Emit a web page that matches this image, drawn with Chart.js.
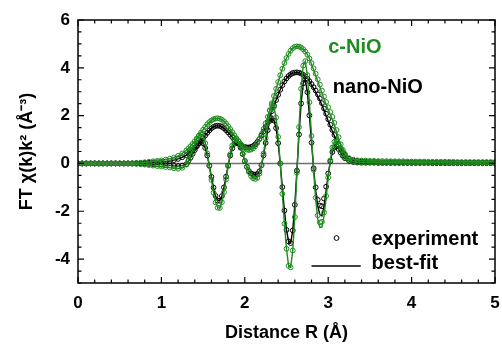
<!DOCTYPE html>
<html><head><meta charset="utf-8">
<script src="https://cdn.jsdelivr.net/npm/chart.js@4.4.1/dist/chart.umd.min.js"></script>
<style>html,body{margin:0;padding:0;background:#fff;}#wrap{width:502px;height:344px;}</style>
</head><body><div id="wrap"><canvas id="c" width="502" height="344"></canvas></div>
<script>
// Distance grid (Å)
const R = [
 0,0.05,0.1,0.15,0.2,0.25,0.3,0.35,0.4,0.45,0.5,0.55,0.6,0.65,0.7,0.75,0.8,0.85,0.9,0.95,1.0,1.05,1.1,1.15,1.2,1.25,
 1.3,1.325,1.35,1.375,1.4,1.425,1.45,1.475,1.5,1.525,1.55,1.575,1.6,1.625,1.65,1.675,1.7,1.725,1.75,1.775,1.8,1.825,1.85,1.875,1.9,1.925,1.95,1.975,
 2.0,2.025,2.05,2.075,2.1,2.125,2.15,2.175,2.2,2.225,2.25,2.275,2.3,2.325,2.35,2.375,2.4,2.425,2.45,2.475,2.5,2.525,2.55,2.575,2.6,2.625,2.65,2.675,2.7,2.725,2.75,2.775,
 2.8,2.825,2.85,2.875,2.9,2.925,2.95,2.975,3.0,3.025,3.05,3.075,3.1,3.125,3.15,3.175,3.2,
 3.25,3.3,3.35,3.4,3.45,3.5,3.55,3.6,3.65,3.7,3.75,3.8,3.85,3.9,3.95,4.0,4.05,4.1,4.15,4.2,4.25,4.3,4.35,4.4,4.45,4.5,4.55,4.6,4.65,4.7,4.75,4.8,4.85,4.9,4.95,5.0
];
// c-NiO experiment: magnitude
const cNiOMagExp = [
 0,0,0,0,0,0,0,0,0,0,0,0,0.005,0.01,0.02,0.03,0.05,0.07,0.09,0.11,0.13,0.16,0.2,0.25,0.32,0.42,
 0.55,0.63,0.72,0.82,0.93,1.05,1.17,1.29,1.41,1.53,1.64,1.73,1.8,1.85,1.88,1.89,1.87,1.83,1.76,1.67,1.56,1.44,1.31,1.18,1.05,0.93,0.82,0.72,
 0.64,0.58,0.56,0.58,0.63,0.72,0.85,1.02,1.22,1.44,1.68,1.95,2.23,2.52,2.82,3.12,3.41,3.69,3.96,4.2,4.41,4.58,4.72,4.82,4.88,4.9,4.89,4.85,4.78,4.68,4.55,4.39,
 4.2,3.98,3.75,3.52,3.3,3.05,2.8,2.57,2.35,2.15,1.95,1.7,1.4,1.1,0.8,0.57,0.4,
 0.22,0.16,0.13,0.12,0.12,0.11,0.11,0.1,0.1,0.1,0.09,0.09,0.09,0.09,0.08,0.08,0.08,0.08,0.08,0.07,0.07,0.07,0.07,0.07,0.07,0.07,0.06,0.06,0.06,0.06,0.06,0.06,0.06,0.06,0.06,0.06
];
// c-NiO experiment: real part
const cNiOReExp = [
 0,0,0,0,0,0,0,0,0,0,0,0,-0.005,-0.01,-0.02,-0.03,-0.05,-0.07,-0.09,-0.11,-0.13,-0.15,-0.17,-0.2,-0.22,-0.18,
 -0.05,0.14,0.35,0.58,0.81,1.01,1.15,1.22,1.12,0.85,0.42,-0.11,-0.69,-1.22,-1.63,-1.85,-1.86,-1.62,-1.2,-0.67,-0.11,0.39,0.75,0.96,1.01,0.93,0.71,0.41,
 0.11,-0.15,-0.36,-0.53,-0.62,-0.65,-0.6,-0.43,-0.09,0.42,1.05,1.69,2.21,2.45,2.37,1.92,1.11,0,-1.27,-2.52,-3.57,-4.28,-4.35,-3.64,-2.24,-0.39,1.52,3.12,4.09,4.28,3.7,2.56,
 1.15,-0.27,-1.43,-2.17,-2.47,-2.44,-2.05,-1.36,-0.59,0.13,0.66,0.91,0.9,0.75,0.55,0.38,0.25,
 0.13,0.08,0.06,0.05,0.05,0.05,0.04,0.04,0.04,0.04,0.04,0.04,0.03,0.03,0.03,0.03,0.03,0.03,0.03,0.03,0.03,0.03,0.03,0.03,0.02,0.02,0.02,0.02,0.02,0.02,0.02,0.02,0.02,0.02,0.02,0.02
];
// c-NiO best fit: magnitude
const cNiOMagFit = [
 0,0,0,0,0,0,0,0,0,0,0,0,0.005,0.01,0.02,0.03,0.05,0.07,0.09,0.11,0.13,0.16,0.2,0.25,0.32,0.42,
 0.55,0.63,0.72,0.82,0.93,1.05,1.17,1.29,1.41,1.53,1.64,1.73,1.8,1.85,1.88,1.89,1.87,1.83,1.76,1.67,1.56,1.44,1.31,1.18,1.05,0.93,0.82,0.72,
 0.64,0.58,0.56,0.58,0.63,0.72,0.85,1.02,1.22,1.44,1.68,1.95,2.23,2.52,2.82,3.12,3.41,3.69,3.96,4.2,4.41,4.58,4.72,4.82,4.88,4.9,4.89,4.85,4.78,4.68,4.55,4.39,
 4.15,3.92,3.68,3.44,3.2,2.95,2.7,2.47,2.25,2.05,1.84,1.6,1.32,1.04,0.76,0.55,0.39,
 0.22,0.16,0.13,0.12,0.12,0.11,0.11,0.1,0.1,0.1,0.09,0.09,0.09,0.09,0.08,0.08,0.08,0.08,0.08,0.07,0.07,0.07,0.07,0.07,0.07,0.07,0.06,0.06,0.06,0.06,0.06,0.06,0.06,0.06,0.06,0.06
];
// c-NiO best fit: real part
const cNiOReFit = [
 0,0,0,0,0,0,0,0,0,0,0,0,-0.005,-0.01,-0.02,-0.03,-0.05,-0.07,-0.09,-0.11,-0.13,-0.15,-0.17,-0.2,-0.22,-0.18,
 -0.05,0.14,0.35,0.58,0.81,1.01,1.15,1.22,1.12,0.85,0.42,-0.11,-0.69,-1.22,-1.63,-1.85,-1.86,-1.62,-1.2,-0.67,-0.11,0.39,0.75,0.96,1.01,0.93,0.71,0.41,
 0.11,-0.15,-0.36,-0.53,-0.62,-0.65,-0.6,-0.43,-0.09,0.42,1.05,1.69,2.21,2.45,2.37,1.92,1.11,0,-1.27,-2.52,-3.57,-4.28,-4.35,-3.64,-2.24,-0.39,1.52,3.12,4.09,4.28,3.7,2.56,
 1.15,-0.27,-1.5,-2.32,-2.68,-2.66,-2.2,-1.45,-0.62,0.13,0.66,0.91,0.9,0.75,0.55,0.38,0.25,
 0.13,0.08,0.06,0.05,0.05,0.05,0.04,0.04,0.04,0.04,0.04,0.04,0.03,0.03,0.03,0.03,0.03,0.03,0.03,0.03,0.03,0.03,0.03,0.03,0.02,0.02,0.02,0.02,0.02,0.02,0.02,0.02,0.02,0.02,0.02,0.02
];
// nano-NiO experiment: magnitude
const nanoMagExp = [
 0,0,0,0,0,0,0,0,0,0,0,0,0,0,0.01,0.01,0.02,0.03,0.04,0.05,0.06,0.08,0.1,0.14,0.19,0.26,
 0.35,0.41,0.48,0.56,0.65,0.75,0.85,0.95,1.06,1.17,1.28,1.38,1.47,1.53,1.57,1.58,1.57,1.53,1.47,1.39,1.3,1.2,1.1,1.0,0.91,0.83,0.77,0.72,
 0.69,0.67,0.67,0.69,0.73,0.8,0.9,1.02,1.17,1.34,1.53,1.74,1.96,2.19,2.42,2.65,2.87,3.08,3.27,3.43,3.56,3.66,3.73,3.78,3.8,3.81,3.8,3.76,3.71,3.64,3.55,3.44,
 3.32,3.19,3.05,2.89,2.72,2.52,2.3,2.08,1.85,1.62,1.4,1.19,0.98,0.79,0.62,0.47,0.35,
 0.2,0.13,0.1,0.08,0.07,0.06,0.06,0.06,0.05,0.05,0.05,0.05,0.05,0.05,0.04,0.04,0.04,0.04,0.04,0.04,0.04,0.04,0.04,0.04,0.03,0.03,0.03,0.03,0.03,0.03,0.03,0.03,0.03,0.03,0.03,0.03
];
// nano-NiO experiment: real part
const nanoReExp = [
 0,0,0,0,0,0,0,0,0,0,0,0,0,0,0,-0.01,-0.01,-0.02,-0.03,-0.04,-0.05,-0.07,-0.08,-0.1,-0.11,-0.09,
 -0.03,0.11,0.24,0.4,0.56,0.72,0.84,0.9,0.84,0.65,0.33,-0.09,-0.56,-1.01,-1.36,-1.55,-1.56,-1.36,-1.0,-0.55,-0.09,0.33,0.63,0.82,0.88,0.83,0.66,0.39,
 0.1,-0.14,-0.32,-0.42,-0.45,-0.47,-0.44,-0.33,-0.07,0.34,0.86,1.39,1.78,1.86,1.79,1.48,0.85,0,-0.99,-1.97,-2.78,-3.26,-3.33,-2.8,-1.73,-0.3,1.21,2.51,3.35,3.52,2.98,2.01,
 0.87,-0.2,-1.0,-1.52,-1.76,-1.79,-1.47,-0.97,-0.42,0.09,0.48,0.68,0.71,0.6,0.45,0.32,0.22,
 0.11,0.06,0.04,0.03,0.03,0.03,0.03,0.02,0.02,0.02,0.02,0.02,0.02,0.02,0.02,0.02,0.02,0.02,0.02,0.02,0.01,0.01,0.01,0.01,0.01,0.01,0.01,0.01,0.01,0.01,0.01,0.01,0.01,0.01,0.01,0.01
];
// nano-NiO best fit: magnitude
const nanoMagFit = [
 0,0,0,0,0,0,0,0,0,0,0,0,0,0,0.01,0.01,0.02,0.03,0.04,0.05,0.06,0.08,0.1,0.14,0.19,0.26,
 0.35,0.41,0.48,0.56,0.65,0.75,0.85,0.95,1.06,1.17,1.28,1.38,1.47,1.53,1.57,1.58,1.57,1.53,1.47,1.39,1.3,1.2,1.1,1.0,0.91,0.83,0.77,0.72,
 0.69,0.67,0.67,0.69,0.73,0.8,0.9,1.02,1.17,1.34,1.53,1.74,1.96,2.19,2.42,2.65,2.87,3.08,3.27,3.43,3.56,3.66,3.73,3.78,3.8,3.81,3.8,3.76,3.71,3.64,3.55,3.44,
 3.28,3.14,2.99,2.82,2.64,2.44,2.22,2.0,1.78,1.56,1.35,1.15,0.95,0.77,0.6,0.46,0.34,
 0.2,0.13,0.1,0.08,0.07,0.06,0.06,0.06,0.05,0.05,0.05,0.05,0.05,0.05,0.04,0.04,0.04,0.04,0.04,0.04,0.04,0.04,0.04,0.04,0.03,0.03,0.03,0.03,0.03,0.03,0.03,0.03,0.03,0.03,0.03,0.03
];
// nano-NiO best fit: real part
const nanoReFit = [
 0,0,0,0,0,0,0,0,0,0,0,0,0,0,0,-0.01,-0.01,-0.02,-0.03,-0.04,-0.05,-0.07,-0.08,-0.1,-0.11,-0.09,
 -0.03,0.11,0.24,0.4,0.56,0.72,0.84,0.9,0.84,0.65,0.33,-0.09,-0.56,-1.01,-1.36,-1.55,-1.56,-1.36,-1.0,-0.55,-0.09,0.33,0.63,0.82,0.88,0.83,0.66,0.39,
 0.1,-0.14,-0.32,-0.42,-0.45,-0.47,-0.44,-0.33,-0.07,0.34,0.86,1.39,1.78,1.86,1.79,1.48,0.85,0,-0.99,-1.97,-2.78,-3.26,-3.33,-2.8,-1.73,-0.3,1.21,2.51,3.35,3.52,2.98,2.01,
 0.87,-0.2,-1.14,-1.79,-2.14,-2.19,-1.8,-1.15,-0.48,0.09,0.48,0.68,0.71,0.6,0.45,0.32,0.22,
 0.11,0.06,0.04,0.03,0.03,0.03,0.03,0.02,0.02,0.02,0.02,0.02,0.02,0.02,0.02,0.02,0.02,0.02,0.02,0.02,0.01,0.01,0.01,0.01,0.01,0.01,0.01,0.01,0.01,0.01,0.01,0.01,0.01,0.01,0.01,0.01
];
const xTickVals = [0,1,2,3,4,5];
const yTickVals = [-4,-2,0,2,4,6];
const seriesLabels = ['c-NiO','nano-NiO'];
const legendLabels = ['experiment','best-fit'];

const GREEN = '#1f8c1f', BLACK = '#000000';
const FONT = '"Liberation Sans", Arial, Helvetica, sans-serif';
const pts = arr => R.map((x,i)=>({x:x, y:arr[i]}));
const lineDs = (arr,col) => ({data:pts(arr), borderColor:col, borderWidth:1.4, pointRadius:0, showLine:true, fill:false, tension:0});
const ptDs = (arr,col) => ({data:pts(arr), borderColor:col, backgroundColor:'rgba(0,0,0,0)', borderWidth:1, pointRadius:2.4, pointStyle:'circle', showLine:false});

const deco = {
  id:'deco',
  beforeDatasetsDraw(chart){
    const {ctx, scales:{x,y}} = chart;
    ctx.save();
    ctx.strokeStyle='#707070'; ctx.lineWidth=1.5;
    const y0=y.getPixelForValue(0);
    ctx.beginPath(); ctx.moveTo(x.getPixelForValue(x.min),y0); ctx.lineTo(x.getPixelForValue(x.max),y0); ctx.stroke();
    ctx.restore();
  },
  afterDraw(chart){
    const {ctx, chartArea:a, scales:{x,y}} = chart;
    ctx.save();
    ctx.strokeStyle='#000'; ctx.lineWidth=1.5;
    ctx.strokeRect(a.left,a.top,a.right-a.left,a.bottom-a.top);
    ctx.lineWidth=1.2;
    ctx.beginPath();
    for(let k=0;k<=25;k++){
      const v=k*0.2, px=x.getPixelForValue(v), L=(k%5===0)?6:3.5;
      ctx.moveTo(px,a.bottom); ctx.lineTo(px,a.bottom-L);
      ctx.moveTo(px,a.top); ctx.lineTo(px,a.top+L);
    }
    for(let k=0;k<=22;k++){
      const v=-5+k*0.5, py=y.getPixelForValue(v), L=(Math.abs(v%2)<1e-9)?6:3.5;
      ctx.moveTo(a.left,py); ctx.lineTo(a.left+L,py);
      ctx.moveTo(a.right,py); ctx.lineTo(a.right-L,py);
    }
    ctx.stroke();
    // series labels
    ctx.font='bold 20px '+FONT; ctx.textBaseline='alphabetic'; ctx.textAlign='left';
    ctx.fillStyle=GREEN; ctx.fillText(seriesLabels[0], x.getPixelForValue(3.0), y.getPixelForValue(4.62));
    ctx.fillStyle=BLACK; ctx.fillText(seriesLabels[1], x.getPixelForValue(3.055), y.getPixelForValue(2.95));
    // legend
    ctx.strokeStyle=BLACK; ctx.lineWidth=1;
    ctx.beginPath(); ctx.arc(x.getPixelForValue(3.1), y.getPixelForValue(-3.12), 2.4, 0, Math.PI*2); ctx.stroke();
    ctx.lineWidth=1.5;
    ctx.beginPath(); ctx.moveTo(x.getPixelForValue(2.8), y.getPixelForValue(-4.29)); ctx.lineTo(x.getPixelForValue(3.39), y.getPixelForValue(-4.29)); ctx.stroke();
    ctx.fillStyle=BLACK;
    ctx.fillText(legendLabels[0], x.getPixelForValue(3.52), y.getPixelForValue(-3.41));
    ctx.fillText(legendLabels[1], x.getPixelForValue(3.52), y.getPixelForValue(-4.41));
    ctx.restore();
  }
};

new Chart(document.getElementById('c'), {
  type:'scatter',
  data:{datasets:[
    lineDs(cNiOReFit,GREEN), lineDs(cNiOMagFit,GREEN), ptDs(cNiOReExp,GREEN), ptDs(cNiOMagExp,GREEN),
    lineDs(nanoReFit,BLACK), lineDs(nanoMagFit,BLACK), ptDs(nanoReExp,BLACK), ptDs(nanoMagExp,BLACK)
  ]},
  options:{
    responsive:false, animation:false, devicePixelRatio:1, events:[],
    layout:{padding:{left:0,right:7,top:20,bottom:0}},
    plugins:{legend:{display:false}, tooltip:{enabled:false}},
    scales:{
      x:{type:'linear', min:0, max:5,
        afterFit:s=>{s.height=61; s.paddingLeft=0; s.paddingRight=0;},
        afterBuildTicks:s=>{s.ticks=xTickVals.map(v=>({value:v}));},
        grid:{display:false, drawTicks:false}, border:{display:false},
        ticks:{color:'#000', padding:10, font:{family:FONT, size:17, weight:'bold'}, callback:v=>String(v), maxRotation:0},
        title:{display:true, text:'Distance R (Å)', color:'#000', padding:{top:0,bottom:0}, font:{family:FONT,size:18,weight:'bold'}}
      },
      y:{type:'linear', min:-5, max:6,
        afterFit:s=>{s.width=78; s.paddingTop=0; s.paddingBottom=0;},
        afterBuildTicks:s=>{s.ticks=yTickVals.map(v=>({value:v}));},
        grid:{display:false, drawTicks:false}, border:{display:false},
        ticks:{color:'#000', padding:8, font:{family:FONT, size:17, weight:'bold'}, callback:v=>String(v)},
        title:{display:true, text:'FT χ(k)k² (Å⁻³)', color:'#000', padding:{top:16,bottom:0}, font:{family:FONT,size:18,weight:'bold'}}
      }
    }
  },
  plugins:[deco]
});
</script></body></html>
